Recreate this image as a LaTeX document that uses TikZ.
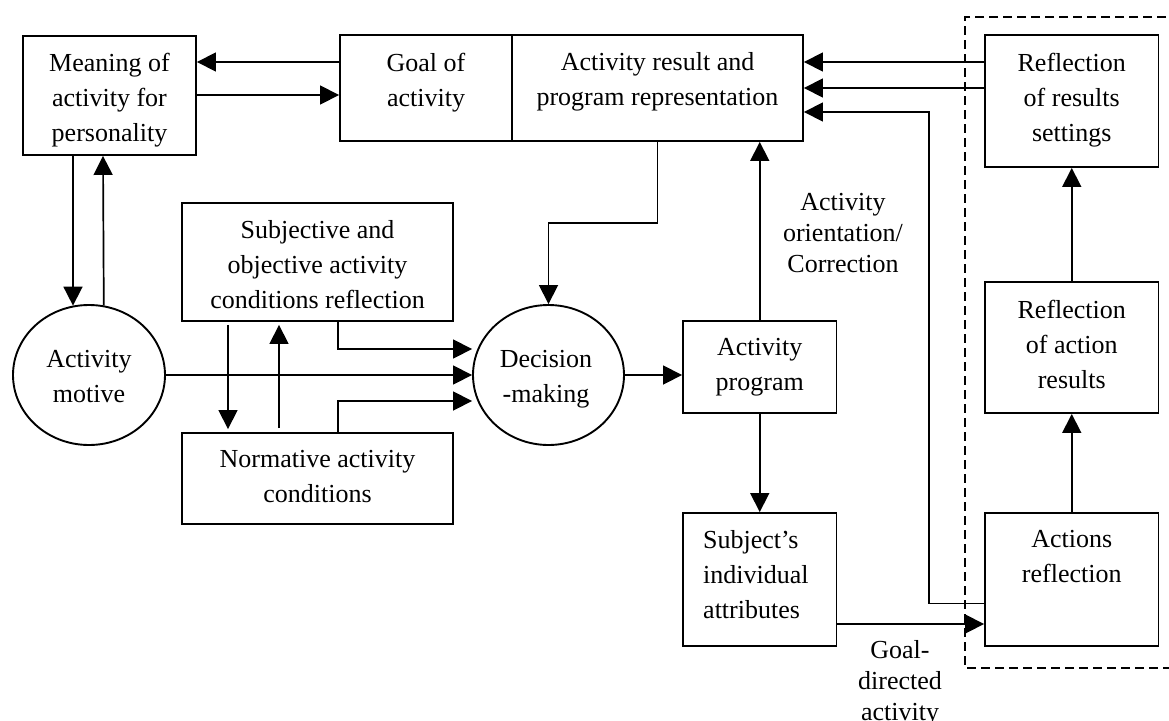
\documentclass[tikz,border=0pt]{standalone}
\usepackage{fontspec}
\setmainfont{Liberation Serif}
\usetikzlibrary{arrows.meta,shapes.geometric}
\tikzset{
  box/.style={draw, rectangle, line width=1.9pt, inner sep=0pt},
  oval/.style={draw, ellipse, line width=1.9pt, inner sep=0pt},
  txt/.style={align=center, inner sep=0pt, anchor=north, font=\fontsize{26}{35}\selectfont},
  lbl/.style={align=center, inner sep=0pt, anchor=north, font=\fontsize{26}{31}\selectfont},
  arr/.style={line width=1.7pt, -{Triangle[length=19pt,width=19pt]}},
  frame/.style={line width=1.8pt, dash pattern=on 9pt off 5pt}
}
\begin{document}
\begin{tikzpicture}[x=1pt,y=-1pt]
\useasboundingbox (0,0) rectangle (1169,720);
% boxes
\node[box, minimum width=173pt, minimum height=119pt] (meaning) at (109.5,95.5) {};
\node[box, minimum width=172pt, minimum height=106pt] (goal) at (426,88) {};
\node[box, minimum width=291pt, minimum height=106pt] (result) at (657.5,88) {};
\node[box, minimum width=173.5pt, minimum height=132pt] (settings) at (1071.75,101) {};
\node[box, minimum width=173.5pt, minimum height=131pt] (actres) at (1071.75,347.5) {};
\node[box, minimum width=173.5pt, minimum height=133pt] (actions) at (1071.75,579.5) {};
\node[box, minimum width=271pt, minimum height=118pt] (subj) at (317.5,262) {};
\node[box, minimum width=271pt, minimum height=91pt] (norm) at (317.5,478.5) {};
\node[box, minimum width=153.5pt, minimum height=92pt] (program) at (759.75,367) {};
\node[box, minimum width=153.5pt, minimum height=133pt] (subject) at (759.75,579.5) {};
\node[oval, minimum width=152pt, minimum height=140pt] (motive) at (89,375) {};
\node[oval, minimum width=151pt, minimum height=140pt] (decision) at (548.5,375) {};
% texts
\node[txt] (meaning-t) at (109.5,52.5) {Meaning of\\activity for\\personality};
\node[txt] (goal-t) at (426,52.5) {Goal of\\activity};
\node[txt] (result-t) at (657.5,52.5) {Activity result and\\program representation};
\node[txt] (settings-t) at (1071.75,52.5) {Reflection\\of results\\settings};
\node[txt] (actres-t) at (1071.75,299.5) {Reflection\\of action\\results};
\node[txt] (actions-t) at (1071.75,530.5) {Actions\\reflection};
\node[txt] (subj-t) at (317.5,220.5) {Subjective and\\objective activity\\conditions reflection};
\node[txt] (norm-t) at (317.5,450.5) {Normative activity\\conditions};
\node[txt] (program-t) at (759.75,338.5) {Activity\\program};
\node[txt, align=left, anchor=north west] (subject-t) at (703,530.5) {Subject’s\\individual\\attributes};
\node[txt] (motive-t) at (89,350.5) {Activity\\motive};
\node[txt] (decision-t) at (546,350.5) {Decision\\-making};
\node[lbl] (orient-t) at (843,193.5) {Activity\\orientation/\\Correction};
\node[lbl] (goaldir-t) at (900,640) {Goal-\\directed\\activity};
% dashed frame
\draw[frame] (1180,17) -- (965,17) -- (965,668) -- (1180,668);
% connectors
\draw[arr] (goal.west |- 0,62) -- (meaning.east |- 0,62);
\draw[arr] (meaning.east |- 0,95) -- (goal.west |- 0,95);
\draw[arr] (meaning.south -| 73,0) -- (motive.103);
\draw[arr] (motive.78.5) -- (meaning.south -| 103,0);
\draw[arr] (motive.east) -- (decision.west);
\draw[arr] (subj.south -| 338,0) |- (decision.west |- 0,349);
\draw[arr] (norm.north -| 338,0) |- (decision.west |- 0,401);
\draw[arr, shorten <=3pt, shorten >=3pt] (subj.south -| 228,0) -- (norm.north -| 228,0);
\draw[arr, shorten <=4pt, shorten >=3pt] (norm.north -| 279,0) -- (subj.south -| 279,0);
\draw[arr] (result.south) -- (result.south |- 0,223) -| (decision.north);
\draw[arr] (decision.east) -- (decision.east -| program.west);
\draw[arr] (program.north) -- (result.south -| program.north);
\draw[arr] (program.south) -- (subject.north);
\draw[arr] (subject.east |- 0,624) -- (actions.west |- 0,624);
\draw[arr] (actions.west |- 0,603.5) -| (929,112) -- (result.east |- 0,112);
\draw[arr] (settings.west |- 0,62) -- (result.east |- 0,62);
\draw[arr] (settings.west |- 0,88) -- (result.east |- 0,88);
\draw[arr] (actions.north) -- (actres.south);
\draw[arr] (actres.north) -- (settings.south);
\end{tikzpicture}
\end{document}
